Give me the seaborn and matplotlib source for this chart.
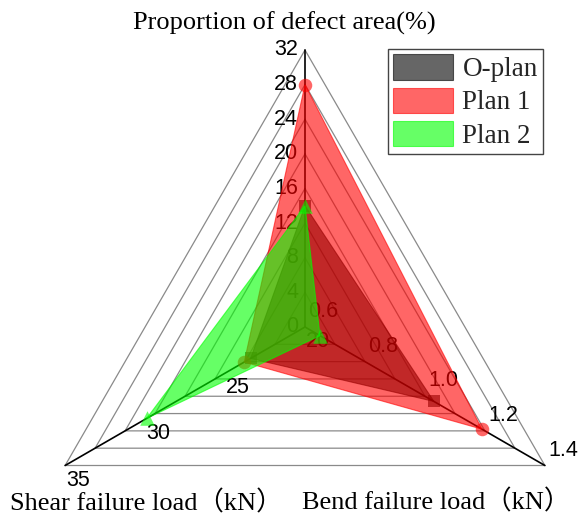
import numpy as np
import pandas as pd
import seaborn as sns
import matplotlib
matplotlib.use("Agg")
import matplotlib.pyplot as plt
from matplotlib.patches import Patch

sns.set_theme(style="white")
plt.rcParams['font.family'] = ['Liberation Serif', 'Noto Sans CJK SC']

# ---- data -------------------------------------------------------------
plans = ["O-plan", "Plan 1", "Plan 2"]
defect_area = [14.0, 28.0, 14.0]   # proportion of defect area, %
bend_load = [1.03, 1.19, 0.65]     # bend failure load, kN
shear_load = [23.4, 23.8, 29.9]    # shear failure load, kN

defect_ticks = [0, 4, 8, 12, 16, 20, 24, 28, 32]
bend_ticks = [0.6, 0.8, 1.0, 1.2, 1.4]
shear_ticks = [20, 25, 30, 35]
axis_titles = ["Proportion of defect area(%)",
               "Bend failure load（kN）",
               "Shear failure load（kN）"]

plan_colors = ["black", "red", "lime"]
plan_markers = ["s", "o", "^"]
marker_sizes = [80, 95, 110]

# ---- radar geometry ---------------------------------------------------
ranges = [(0, 32), (0.6, 1.4), (20, 35)]
angles = np.deg2rad([90, -30, 210])
n_levels = 8


def to_xy(axis, value):
    lo, hi = ranges[axis]
    r = (value - lo) / (hi - lo)
    return r * np.cos(angles[axis]), r * np.sin(angles[axis])


W, H = 582, 517
R_PX = 277.0
CX, CY = 305.0, 327.0

fig = plt.figure(figsize=(W / 100, H / 100), dpi=100)
ax = fig.add_axes([0, 0, 1, 1])

# nested triangular grid
for k in range(1, n_levels + 1):
    f = k / n_levels
    xs = [f * np.cos(a) for a in angles] + [f * np.cos(angles[0])]
    ys = [f * np.sin(a) for a in angles] + [f * np.sin(angles[0])]
    ax.plot(xs, ys, color="#8a8a8a", lw=0.9, zorder=1)

# spokes
for a in angles:
    ax.plot([0, np.cos(a)], [0, np.sin(a)], color="black", lw=1.2, zorder=2)

# tick labels
tick_kw = dict(family="Liberation Sans", fontsize=15.5, color="black",
               zorder=3, textcoords="offset points")
for t in defect_ticks:
    ax.annotate(f"{t:g}", to_xy(0, t), xytext=(-5, 0), ha="right",
                va="center", **tick_kw)
for t in bend_ticks:
    ax.annotate(f"{t:.1f}", to_xy(1, t), xytext=(13, 11), ha="center",
                va="center", **tick_kw)
for t in shear_ticks:
    ax.annotate(f"{t:g}", to_xy(2, t), xytext=(9.5, -10.5), ha="center",
                va="center", **tick_kw)

# plan polygons and vertex markers
rows = []
for i, p in enumerate(plans):
    vals = [defect_area[i], bend_load[i], shear_load[i]]
    pts = [to_xy(j, v) for j, v in enumerate(vals)]
    xs = [q[0] for q in pts]
    ys = [q[1] for q in pts]
    ax.fill(xs, ys, facecolor=plan_colors[i], alpha=0.6,
            edgecolor=plan_colors[i], lw=0.8, zorder=4 + i)
    for x, y in pts:
        rows.append({"plan": p, "x": x, "y": y})

pts_df = pd.DataFrame(rows)
for i, p in enumerate(plans):
    sub = pts_df[pts_df["plan"] == p]
    sns.scatterplot(data=sub, x="x", y="y", ax=ax, color=plan_colors[i],
                    marker=plan_markers[i], s=marker_sizes[i], alpha=0.6,
                    linewidth=0, zorder=4 + i, legend=False)
ax.set_xlim(-CX / R_PX, (W - CX) / R_PX)
ax.set_ylim(-(H - CY) / R_PX, CY / R_PX)
ax.axis("off")

# axis titles
title_kw = dict(fontsize=19, ha="center", va="center", color="black")
fig.text(284 / W, 1 - 23 / H, axis_titles[0], **title_kw)
fig.text(436 / W, 1 - 502 / H, axis_titles[1], **title_kw)
fig.text(146 / W, 1 - 503 / H, axis_titles[2], **title_kw)

# legend
handles = [Patch(facecolor=c, alpha=0.6, edgecolor=c, lw=0.8)
           for c in plan_colors]
leg = ax.legend(handles, plans, loc="upper left",
                bbox_to_anchor=(388 / W, 1 - 49 / H),
                bbox_transform=fig.transFigure, fontsize=19.5,
                frameon=True, fancybox=False, shadow=False,
                handlelength=2.2, handleheight=1.05, labelspacing=0.2,
                handletextpad=0.35, borderpad=0.2, borderaxespad=0)
leg.get_frame().set_edgecolor("#444444")
leg.get_frame().set_linewidth(1.0)
leg.get_frame().set_alpha(1)

fig.savefig("out.png", dpi=100)
